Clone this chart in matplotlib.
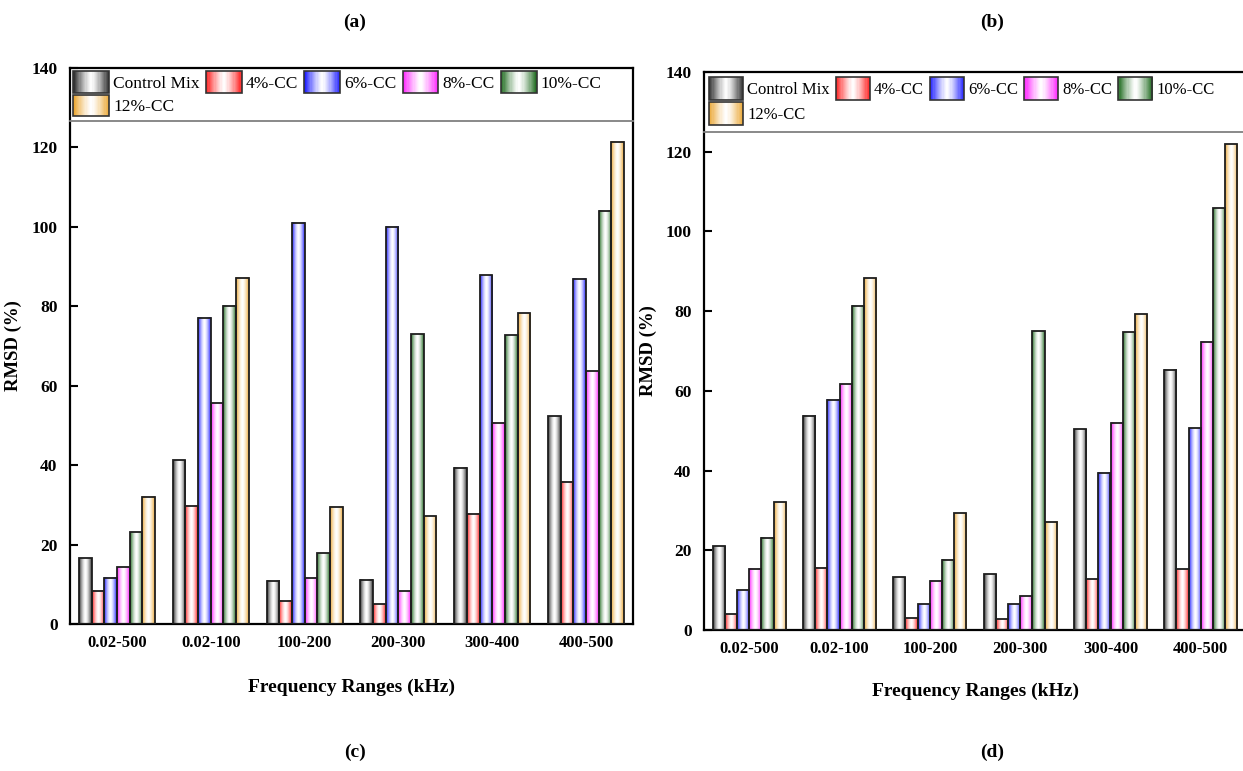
import matplotlib
matplotlib.use('Agg')
import matplotlib.pyplot as plt
import numpy as np
from matplotlib.colors import to_rgb
from matplotlib.patches import Rectangle
from matplotlib.legend_handler import HandlerBase

plt.rcParams['font.family'] = ['Liberation Serif', 'DejaVu Serif']

ranges = ['0.02-500', '0.02-100', '100-200', '200-300', '300-400', '400-500']
names = ['Control Mix', '4%-CC', '6%-CC', '8%-CC', '10%-CC', '12%-CC']
colors = ['#2b2b2b', '#ff1a1a', '#1a1aff', '#ff1aff', '#1f6b1f', '#eaa530']

# panel (a)
a_control = [16.6, 41.2, 10.9, 11.2, 39.4, 52.3]
a_cc4 = [8.4, 29.8, 5.8, 5.0, 27.8, 35.8]
a_cc6 = [11.7, 77.1, 101.0, 100.0, 87.8, 86.9]
a_cc8 = [14.3, 55.6, 11.6, 8.2, 50.7, 63.6]
a_cc10 = [23.1, 80.1, 17.8, 73.0, 72.7, 104.1]
a_cc12 = [32.1, 87.2, 29.5, 27.1, 78.2, 121.4]

# panel (b)
b_control = [21.0, 53.7, 13.2, 14.0, 50.4, 65.3]
b_cc4 = [4.0, 15.6, 2.9, 2.7, 12.7, 15.2]
b_cc6 = [10.0, 57.8, 6.5, 6.5, 39.5, 50.6]
b_cc8 = [15.4, 61.7, 12.4, 8.5, 52.0, 72.3]
b_cc10 = [23.2, 81.3, 17.6, 75.0, 74.7, 105.8]
b_cc12 = [32.0, 88.2, 29.3, 27.1, 79.2, 121.9]


def shade(color, n=32, p=1.6):
    """colour at both edges fading to white in the middle"""
    t = (np.arange(n) + 0.5) / n
    w = np.abs(2 * t - 1) ** p
    c = np.array(to_rgb(color))
    return np.ones(3) * (1 - w[:, None]) + c * w[:, None]


class GradientHandler(HandlerBase):
    def create_artists(self, legend, orig_handle, xdescent, ydescent,
                       width, height, fontsize, trans):
        col = orig_handle.get_facecolor()
        rgb = shade(col[:3], 30, 1.3)
        n = len(rgb)
        arts = []
        for i, c in enumerate(rgb):
            arts.append(Rectangle((-xdescent + i * width / n, -ydescent), width / n * 1.1, height,
                                  facecolor=c, edgecolor='none', transform=trans))
        arts.append(Rectangle((-xdescent, -ydescent), width, height, fill=False,
                              edgecolor='#333333', lw=1.2, transform=trans))
        return arts


def draw(ax, series, legsize, hh, bpad):
    x = np.arange(len(ranges))
    w = 0.135
    for i, (vals, c) in enumerate(zip(series, colors)):
        bars = ax.bar(x + (i - 2.5) * w, vals, w, facecolor='none',
                      edgecolor='#1e1e1e', lw=1.3, zorder=3)
        img = shade(c)[None, :, :]
        for b in bars:
            ax.imshow(img, extent=(b.get_x(), b.get_x() + b.get_width(), 0, b.get_height()),
                      aspect='auto', zorder=2, interpolation='bilinear')
    ax.set_xlim(-0.5, 5.5)
    ax.set_ylim(0, 140)
    ax.set_xticks(x)
    ax.set_xticklabels(ranges, fontsize=12, fontweight='bold')
    ax.set_yticks(np.arange(0, 141, 20))
    for lab in ax.get_yticklabels():
        lab.set_fontsize(12.5)
        lab.set_fontweight('bold')
    ax.tick_params(direction='in', length=6, width=1.5, pad=8)
    ax.tick_params(axis='y', pad=9)
    for s in ax.spines.values():
        s.set_linewidth(1.6)
    ax.set_ylabel('RMSD (%)', fontsize=13.5, fontweight='bold')
    ax.set_xlabel('Frequency Ranges (kHz)', fontsize=14, fontweight='bold')

    proxies = [Rectangle((0, 0), 1, 1, facecolor=c) for c in colors]
    order = [0, 5, 1, 2, 3, 4]
    leg = ax.legend([proxies[k] for k in order], [names[k] for k in order],
                    handler_map={Rectangle: GradientHandler()},
                    ncol=5, loc='upper left', bbox_to_anchor=(0, 1),
                    frameon=False, fontsize=legsize, handlelength=2.05, handleheight=hh,
                    handletextpad=0.25, columnspacing=0.35, labelspacing=0.12,
                    borderpad=bpad, borderaxespad=0.0)
    leg.set_zorder(5)
    return leg


fig = plt.figure(figsize=(12.43, 7.71), dpi=100)
W, H = 1243.0, 771.0
ax1 = fig.add_axes([70 / W, (H - 624) / H, 563 / W, 556 / H])
ax2 = fig.add_axes([704 / W, (H - 630) / H, 542 / W, 558 / H])

leg1 = draw(ax1, [a_control, a_cc4, a_cc6, a_cc8, a_cc10, a_cc12], 12.5, 1.5, 0.2)
leg2 = draw(ax2, [b_control, b_cc4, b_cc6, b_cc8, b_cc10, b_cc12], 12, 1.75, 0.3)

ax1.yaxis.set_label_coords(-48 / 563, 0.5)
ax2.yaxis.set_label_coords(-47 / 542, 0.5)
ax1.xaxis.set_label_coords(0.5, -0.098)
ax2.xaxis.set_label_coords(0.5, -0.094)

# line under the legend, across the whole axes
fig.canvas.draw()
for ax, leg in [(ax1, leg1), (ax2, leg2)]:
    bb = leg.get_window_extent()
    yb = ax.transAxes.inverted().transform((0, bb.y0 - 2))[1]
    ax.plot([0, 1], [yb, yb], transform=ax.transAxes, color='#808080', lw=1.3,
            clip_on=False, zorder=4)

for txt, xp, yp in [('(a)', 355, 22), ('(b)', 992, 22), ('(c)', 355, 752), ('(d)', 992, 752)]:
    fig.text(xp / W, 1 - yp / H, txt, ha='center', va='center', fontsize=14, fontweight='bold')

fig.savefig('out.png', dpi=100)
